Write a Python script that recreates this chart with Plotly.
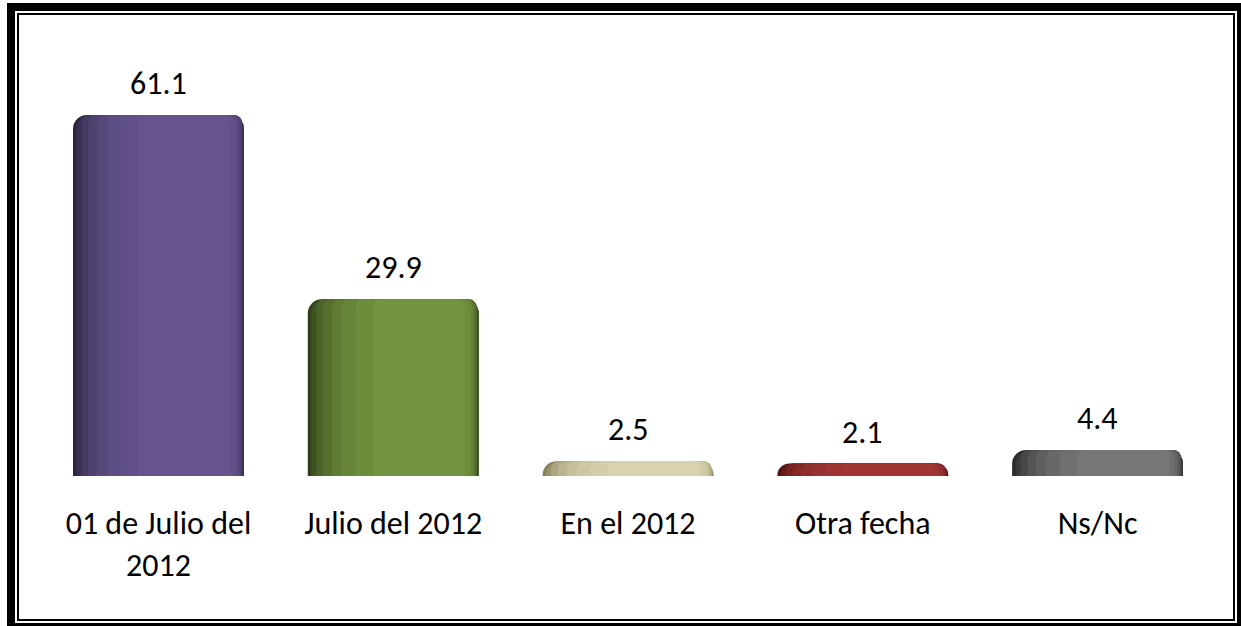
import plotly.graph_objects as go

categories = ["01 de Julio del<br>2012", "Julio del 2012", "En el 2012", "Otra fecha", "Ns/Nc"]
values = [61.1, 29.9, 2.5, 2.1, 4.4]
value_labels = ["61.1", "29.9", "2.5", "2.1", "4.4"]

# shading layers per bar: dark (left edge) -> light (centre-right)
shades = [
    ["#2c233d", "#3a2f51", "#463a62", "#4f4170", "#56487a", "#5c4d82", "#615188", "#65558c"],  # purple
    ["#31401a", "#3f5322", "#4b6229", "#566f2f", "#5f7b34", "#678539", "#6d8c3c", "#739340"],  # green
    ["#85815b", "#9a9570", "#aca781", "#bab58f", "#c5c09a", "#cdc8a2", "#d3cea9", "#d8d3ae"],  # beige
    ["#541212", "#681a1a", "#782121", "#852727", "#8f2c2c", "#973030", "#9d3333", "#a23636"],  # red
    ["#2b2b2b", "#393939", "#474747", "#545454", "#5f5f5f", "#686868", "#707070", "#777777"],  # gray
]
layers = [(0.0, 1.0), (0.02, 1.0), (0.05, 0.99), (0.09, 0.985), (0.14, 0.975),
          (0.20, 0.965), (0.28, 0.95), (0.38, 0.92)]

W = 0.728
FONT = "Carlito, Calibri, Lato, sans-serif"

fig = go.Figure()
for li, (s, e) in enumerate(layers):
    fig.add_trace(go.Bar(
        x=list(range(len(categories))),
        y=values,
        width=(e - s) * W,
        offset=-W / 2 + s * W,
        marker=dict(color=[sh[li] for sh in shades], line=dict(width=0),
                    cornerradius=14 if li < 2 else 8),
        hoverinfo="skip",
        showlegend=False,
    ))

for i, (v, t) in enumerate(zip(values, value_labels)):
    fig.add_annotation(x=i, y=v, text=t, showarrow=False, yanchor="bottom",
                       yshift=10, font=dict(family=FONT, size=32, color="#000000"))

Wpx, Hpx = 1241, 626
def px(x): return x / Wpx
def py(y): return 1 - y / Hpx

fig.add_shape(type="rect", xref="paper", yref="paper",
              x0=px(11), x1=px(1241), y0=py(627), y1=py(7),
              line=dict(color="black", width=8), layer="above")
fig.add_shape(type="rect", xref="paper", yref="paper",
              x0=px(18), x1=px(1234), y0=py(620), y1=py(14),
              line=dict(color="black", width=2), layer="above")

fig.update_layout(
    width=Wpx, height=Hpx,
    margin=dict(l=0, r=0, t=0, b=0),
    paper_bgcolor="white", plot_bgcolor="white",
    barmode="overlay",
    xaxis=dict(domain=[0.0331, 0.9790], range=[-0.5, 4.5],
               tickmode="array", tickvals=list(range(len(categories))), ticktext=categories,
               showgrid=False, zeroline=False, showline=False, ticks="",
               ticklabelstandoff=25,
               tickfont=dict(family=FONT, size=32, color="#000000")),
    yaxis=dict(domain=[0.23962, 0.90032], range=[0, 70], visible=False),
)

fig.write_html("out.html",
               config={"displayModeBar": False},
               post_script="document.body.style.margin='0';document.body.style.overflow='hidden';")
